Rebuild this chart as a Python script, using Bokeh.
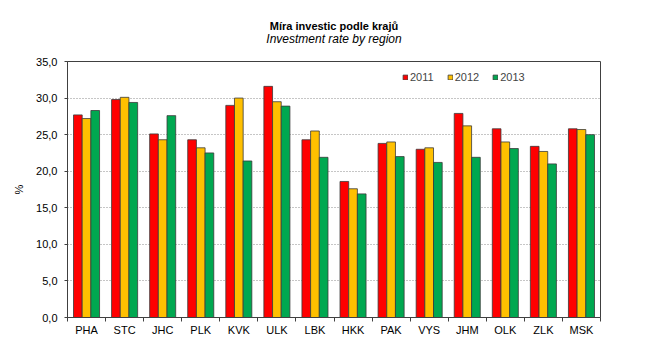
import numpy as np
from bokeh.plotting import figure
from bokeh.models import (Range1d, LinearAxis, FixedTicker, Title, Legend, LegendItem, ColumnDataSource)
from bokeh.embed import file_html
from bokeh.resources import INLINE

regions = ["PHA", "STC", "JHC", "PLK", "KVK", "ULK", "LBK", "HKK", "PAK", "VYS", "JHM", "OLK", "ZLK", "MSK"]
years = ["2011", "2012", "2013"]
v2011 = [27.7, 29.8, 25.1, 24.3, 29.0, 31.6, 24.3, 18.6, 23.8, 23.0, 27.9, 25.8, 23.4, 25.8]
v2012 = [27.2, 30.1, 24.3, 23.2, 30.0, 29.5, 25.5, 17.6, 24.0, 23.2, 26.2, 24.0, 22.7, 25.7]
v2013 = [28.3, 29.4, 27.6, 22.5, 21.4, 28.9, 21.9, 16.9, 22.0, 21.2, 21.9, 23.1, 21.0, 25.0]
y_ticks = [0, 5, 10, 15, 20, 25, 30, 35]
y_tick_labels = ["0,0", "5,0", "10,0", "15,0", "20,0", "25,0", "30,0", "35,0"]
title_text = "Míra investic podle krajů"
subtitle_text = "Investment rate by region"
y_label = "%"

FONT = "Liberation Sans"
colors = ["#FF0000", "#FFC000", "#00A850"]
values = {"2011": v2011, "2012": v2012, "2013": v2013}

n = len(regions)
centers = np.arange(n) + 0.5
bounds = list(range(n + 1))

W, H = 640, 356
p = figure(x_range=Range1d(0, n), y_range=Range1d(0, 35), width=W, height=H,
           output_backend="svg", toolbar_location=None, x_axis_location=None,
           min_border_left=67, min_border_right=40, min_border_top=61, min_border_bottom=39)
p.background_fill_color = "white"
p.border_fill_color = "white"
p.outline_line_color = "#404040"
p.outline_line_width = 1

# titles
p.title.text = title_text
p.title.align = "center"
p.title.text_font = FONT
p.title.text_font_size = "11px"
p.title.text_font_style = "bold"
p.title.text_color = "black"
p.title.standoff = -34
p.add_layout(Title(text=subtitle_text, align="center", text_font=FONT, text_font_size="12px",
                   text_font_style="italic", text_color="black", standoff=31), "above")

bw = 0.228
offsets = [-bw, 0, bw]
renderers = []
for yr, off, col in zip(years, offsets, colors):
    src = ColumnDataSource(dict(x=centers + off, top=values[yr]))
    r = p.vbar(x="x", top="top", width=bw, source=src,
               fill_color=col, line_color="#3a3a3a", line_width=0.8)
    renderers.append(r)

# y axis
p.yaxis.ticker = FixedTicker(ticks=y_ticks)
p.yaxis.major_label_overrides = dict(zip(y_ticks, y_tick_labels))
p.yaxis.minor_tick_line_color = None
p.yaxis.major_tick_out = 3
p.yaxis.major_tick_in = 0
p.yaxis.major_label_standoff = 7
p.yaxis.axis_line_color = "#404040"
p.yaxis.major_tick_line_color = "#404040"
p.yaxis.major_label_text_font = FONT
p.yaxis.major_label_text_font_size = "11px"
p.yaxis.major_label_text_color = "black"
p.yaxis.axis_label = y_label
p.yaxis.axis_label_text_font = FONT
p.yaxis.axis_label_text_font_size = "11px"
p.yaxis.axis_label_text_font_style = "normal"
p.yaxis.axis_label_text_color = "black"
p.yaxis.axis_label_standoff = 8

p.xgrid.visible = False
p.ygrid.ticker = FixedTicker(ticks=y_ticks)
p.ygrid.grid_line_color = "#8c8c8c"
p.ygrid.grid_line_dash = "1 2"
p.ygrid.grid_line_width = 1

# x axis: boundary ticks + category labels
tick_axis = LinearAxis(ticker=FixedTicker(ticks=bounds),
                       major_label_text_font_size="0px", major_label_standoff=0,
                       major_tick_out=4, major_tick_in=0, minor_tick_line_color=None,
                       axis_line_color="#404040", major_tick_line_color="#404040")
tick_axis.major_label_overrides = {b: "" for b in bounds}
p.add_layout(tick_axis, "below")
cat_axis = LinearAxis(ticker=FixedTicker(ticks=list(centers)),
                      axis_line_color=None, major_tick_line_color=None, minor_tick_line_color=None,
                      major_tick_out=0, major_tick_in=0,
                      major_label_standoff=2, major_label_text_font=FONT,
                      major_label_text_font_size="11px", major_label_text_color="black")
cat_axis.major_label_overrides = {float(c): r for c, r in zip(centers, regions)}
p.add_layout(cat_axis, "below")

legend = Legend(items=[LegendItem(label=yr, renderers=[r]) for yr, r in zip(years, renderers)],
                orientation="horizontal", location=(335, 234), glyph_width=6, glyph_height=6,
                label_standoff=2, spacing=13, padding=0, margin=0, border_line_color=None,
                background_fill_alpha=0, label_text_font=FONT, label_text_font_size="11px",
                label_height=12)
p.add_layout(legend)

open("out.html", "w").write(file_html(p, INLINE))
